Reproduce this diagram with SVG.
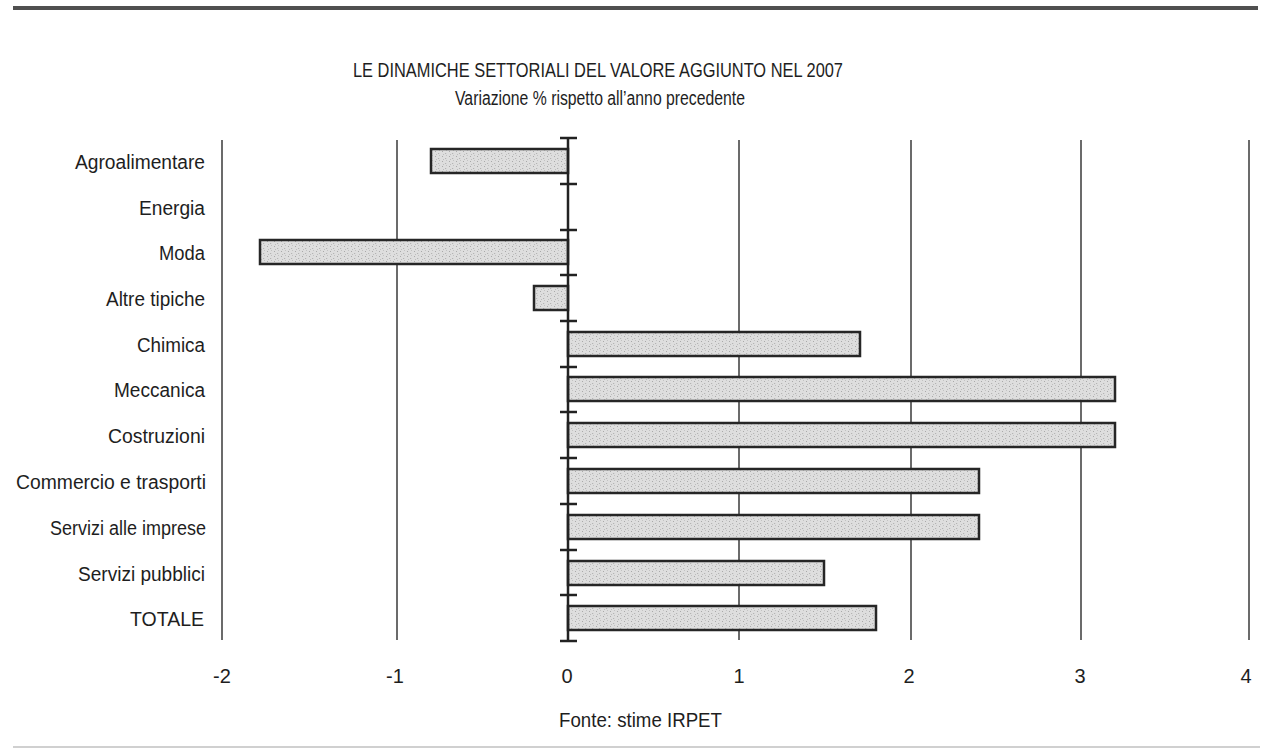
<svg xmlns="http://www.w3.org/2000/svg" width="1263" height="751" viewBox="0 0 1263 751">
<style>
text{font-family:"Liberation Sans",Arial,sans-serif;fill:#1e1e1e}
.lab{font-size:20px;text-anchor:end}
.tick{font-size:20px;text-anchor:middle}
.grid{stroke:#3a3a3a;stroke-width:1.5}
.bar{fill:url(#stip);stroke:#262626;stroke-width:2.5}
.tk{stroke:#222;stroke-width:2.5}
</style>
<defs>
<pattern id="stip" width="7" height="5" patternUnits="userSpaceOnUse">
<rect width="7" height="5" fill="#dedede"/>
<rect x="1" y="1" width="1" height="1" fill="#a9a9a9"/>
<rect x="4" y="3" width="1.2" height="1" fill="#b4b4b4"/>
<rect x="5" y="0" width="1" height="1" fill="#c2c2c2"/>
<rect x="2" y="4" width="1" height="1" fill="#bdbdbd"/>
</pattern>
</defs>
<rect width="1263" height="751" fill="#ffffff"/>
<line x1="13" y1="8" x2="1258" y2="8" stroke="#505050" stroke-width="4"/>
<line x1="13" y1="747" x2="1260" y2="747" stroke="#d0d0d0" stroke-width="2"/>

<g id="title">
<text x="598" y="77" font-size="19.5" text-anchor="middle" textLength="490" lengthAdjust="spacingAndGlyphs">LE DINAMICHE SETTORIALI DEL VALORE AGGIUNTO NEL 2007</text>
<text x="600" y="105" font-size="19.5" text-anchor="middle" textLength="290" lengthAdjust="spacingAndGlyphs">Variazione % rispetto all’anno precedente</text>
</g>

<g id="grid">
<line class="grid" x1="222" y1="140" x2="222" y2="640"/>
<line class="grid" x1="397" y1="140" x2="397" y2="640"/>
<line class="grid" x1="739" y1="140" x2="739" y2="640"/>
<line class="grid" x1="911" y1="140" x2="911" y2="640"/>
<line class="grid" x1="1081" y1="140" x2="1081" y2="640"/>
<line class="grid" x1="1249" y1="140" x2="1249" y2="640"/>
</g>

<g id="bars">
<rect id="bar-agro" class="bar" x="431" y="149" width="137" height="24"/>
<rect id="bar-moda" class="bar" x="260" y="240" width="308" height="24"/>
<rect id="bar-altre" class="bar" x="534" y="286" width="34" height="24"/>
<rect id="bar-chimica" class="bar" x="568" y="332" width="292" height="24"/>
<rect id="bar-meccanica" class="bar" x="568" y="377" width="547" height="24"/>
<rect id="bar-costruzioni" class="bar" x="568" y="423" width="547" height="24"/>
<rect id="bar-commercio" class="bar" x="568" y="469" width="411" height="24"/>
<rect id="bar-servimp" class="bar" x="568" y="515" width="411" height="24"/>
<rect id="bar-servpub" class="bar" x="568" y="561" width="256" height="24"/>
<rect id="bar-totale" class="bar" x="568" y="606" width="308" height="24"/>
</g>

<g id="axis">
<line x1="568" y1="137" x2="568" y2="642" stroke="#222" stroke-width="2.5"/>
<line class="tk" x1="560" y1="138" x2="577" y2="138"/>
<line class="tk" x1="560" y1="184" x2="577" y2="184"/>
<line class="tk" x1="560" y1="230" x2="577" y2="230"/>
<line class="tk" x1="560" y1="275" x2="577" y2="275"/>
<line class="tk" x1="560" y1="321" x2="577" y2="321"/>
<line class="tk" x1="560" y1="367" x2="577" y2="367"/>
<line class="tk" x1="560" y1="412" x2="577" y2="412"/>
<line class="tk" x1="560" y1="458" x2="577" y2="458"/>
<line class="tk" x1="560" y1="504" x2="577" y2="504"/>
<line class="tk" x1="560" y1="550" x2="577" y2="550"/>
<line class="tk" x1="560" y1="595" x2="577" y2="595"/>
<line class="tk" x1="560" y1="641" x2="577" y2="641"/>
</g>

<g id="labels">
<text class="lab" x="205" y="169" textLength="130" lengthAdjust="spacingAndGlyphs">Agroalimentare</text>
<text class="lab" x="205" y="215" textLength="66" lengthAdjust="spacingAndGlyphs">Energia</text>
<text class="lab" x="205" y="260" textLength="46" lengthAdjust="spacingAndGlyphs">Moda</text>
<text class="lab" x="205" y="306" textLength="99" lengthAdjust="spacingAndGlyphs">Altre tipiche</text>
<text class="lab" x="205" y="352" textLength="68" lengthAdjust="spacingAndGlyphs">Chimica</text>
<text class="lab" x="205" y="397" textLength="91" lengthAdjust="spacingAndGlyphs">Meccanica</text>
<text class="lab" x="205" y="443" textLength="97" lengthAdjust="spacingAndGlyphs">Costruzioni</text>
<text class="lab" x="206" y="489" textLength="190" lengthAdjust="spacingAndGlyphs">Commercio e trasporti</text>
<text class="lab" x="206" y="535" textLength="156" lengthAdjust="spacingAndGlyphs">Servizi alle imprese</text>
<text class="lab" x="205" y="581" textLength="127" lengthAdjust="spacingAndGlyphs">Servizi pubblici</text>
<text class="lab" x="204" y="626" textLength="74" lengthAdjust="spacingAndGlyphs">TOTALE</text>
</g>

<g id="xticks">
<text class="tick" x="222" y="683">-2</text>
<text class="tick" x="395" y="683">-1</text>
<text class="tick" x="567" y="683">0</text>
<text class="tick" x="739" y="683">1</text>
<text class="tick" x="909" y="683">2</text>
<text class="tick" x="1080" y="683">3</text>
<text class="tick" x="1246" y="683">4</text>
</g>

<g id="source">
<text x="559" y="727" font-size="19.5" textLength="163" lengthAdjust="spacingAndGlyphs">Fonte: stime IRPET</text>
</g>
</svg>
